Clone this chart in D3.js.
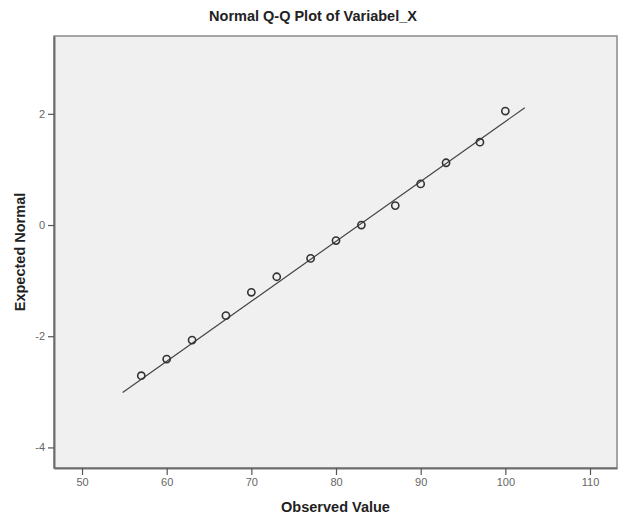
<!DOCTYPE html>
<html>
<head>
<meta charset="utf-8">
<script src="https://cdn.jsdelivr.net/npm/d3@7/dist/d3.min.js"></script>
<style>
  body { margin: 0; background: #fff; }
  text { font-family: "Liberation Sans", Arial, sans-serif; }
</style>
</head>
<body>
<svg id="chart" width="621" height="515"></svg>
<script>
// observed values and their expected normal scores
var observed = [57, 60, 63, 67, 70, 73, 77, 80, 83, 87, 90, 93, 97, 100];
var expected = [-2.71, -2.41, -2.07, -1.63, -1.21, -0.93, -0.60, -0.28, 0.0, 0.35, 0.74, 1.12, 1.49, 2.05];
// reference line end points
var lineX = [54.8, 102.3];
var lineY = [-3.01, 2.11];
var xTicks = [50, 60, 70, 80, 90, 100, 110];
var yTicks = [2, 0, -2, -4];

function draw() {
  var svg = d3.select("#chart");
  var pLeft = 54, pRight = 617, pTop = 36, pBottom = 468;

  var x = d3.scaleLinear().domain([46.69, 113.19]).range([pLeft, pRight]);
  var y = d3.scaleLinear().domain([-4.37, 3.40]).range([pBottom, pTop]);

  // title
  svg.append("text")
    .attr("x", 313).attr("y", 21)
    .attr("text-anchor", "middle")
    .style("font-size", "14.5px").style("font-weight", "bold").style("fill", "#222")
    .text("Normal Q-Q Plot of Variabel_X");

  // plot area
  svg.append("rect")
    .attr("x", pLeft).attr("y", pTop)
    .attr("width", pRight - pLeft).attr("height", pBottom - pTop)
    .style("fill", "#f0f0f0").style("stroke", "#8a8a8a").style("stroke-width", 1.5);

  // axes
  var fmt = function(d) { return String(d); };
  var xAxis = svg.append("g")
    .attr("transform", "translate(0," + pBottom + ")")
    .call(d3.axisBottom(x).tickValues(xTicks).tickFormat(fmt).tickSize(7).tickSizeOuter(0).tickPadding(3));
  var yAxis = svg.append("g")
    .attr("transform", "translate(" + pLeft + ",0)")
    .call(d3.axisLeft(y).tickValues(yTicks).tickFormat(fmt).tickSize(6).tickSizeOuter(0).tickPadding(3));

  [xAxis, yAxis].forEach(function(a) {
    a.select(".domain").style("stroke", "#6e6e6e").style("stroke-width", 2);
    a.selectAll(".tick line").style("stroke", "#555").style("stroke-width", 1.2);
    a.selectAll(".tick text").style("font-size", "11px").style("fill", "#666")
      .style("font-family", "'Liberation Sans', Arial, sans-serif");
  });

  // axis titles
  svg.append("text")
    .attr("x", (pLeft + pRight) / 2).attr("y", 512)
    .attr("text-anchor", "middle")
    .style("font-size", "14.5px").style("font-weight", "bold").style("fill", "#222")
    .text("Observed Value");

  svg.append("text")
    .attr("transform", "translate(25," + ((pTop + pBottom) / 2) + ") rotate(-90)")
    .attr("text-anchor", "middle")
    .style("font-size", "14.5px").style("font-weight", "bold").style("fill", "#222")
    .text("Expected Normal");

  // reference line
  svg.append("line")
    .attr("x1", x(lineX[0])).attr("y1", y(lineY[0]))
    .attr("x2", x(lineX[1])).attr("y2", y(lineY[1]))
    .style("stroke", "#444").style("stroke-width", 1.2);

  // points
  svg.selectAll("circle.pt")
    .data(observed)
    .enter().append("circle")
    .attr("class", "pt")
    .attr("cx", function(d) { return x(d); })
    .attr("cy", function(d, i) { return y(expected[i]); })
    .attr("r", 3.6)
    .style("fill", "none").style("stroke", "#333").style("stroke-width", 1.6);
}

draw();
</script>
</body>
</html>
